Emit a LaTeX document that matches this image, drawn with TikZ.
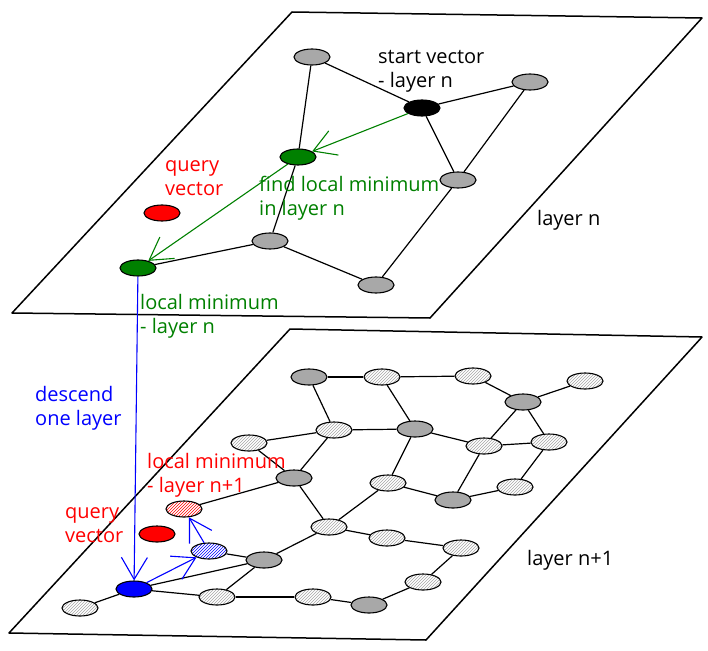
\documentclass[tikz,border=0pt]{standalone}
\usepackage{fontspec}
\newfontfamily\hand{Open Sans}
\usetikzlibrary{shapes.geometric,patterns,arrows.meta}
\definecolor{nodegray}{RGB}{168,168,168}
\definecolor{darkgreen}{RGB}{0,128,0}

\begin{document}
\begin{tikzpicture}[x=1pt,y=-1pt,
        vec/.style={ellipse,draw,line width=1.1pt,minimum width=36pt,minimum height=16pt,inner sep=0pt},
        full/.style={vec,fill=nodegray},
        hatch/.style={vec,pattern=north east lines,pattern color=gray!70},
        edge/.style={line width=1.2pt},
        plane/.style={line width=1.5pt,line join=round},
        txt/.style={font=\hand\fontsize{20}{24}\selectfont,align=left,anchor=base west,inner sep=0pt},
        walk/.style={line width=1.1pt,-{Straight Barb[length=22pt,width=26pt]}}]
        \useasboundingbox (0,0) rectangle (708,650) ;
        %\draw[very thin,gray,step=50] (0,0) grid (708,650) ;
        % the two layers
        \draw[plane] (292,12)--(702,18)--(430,318)--(12,313)--cycle ;
        \draw[plane] (290,329)--(702,337)--(426,640)--(9,633)--cycle ;
        % layer n
        \node[full] (a) at (312,57) {} ;
        \node[full,fill=black] (start) at (422,108) {} ;
        \node[full] (b) at (530,82) {} ;
        \node[full,fill=darkgreen] (g1) at (298,157) {} ;
        \node[full] (c) at (458,180) {} ;
        \node[vec,fill=red] (q1) at (162,213) {} ;
        \node[full] (d) at (270,241) {} ;
        \node[full,fill=darkgreen] (lmin) at (138,268) {} ;
        \node[full] (e) at (376,285) {} ;
        \foreach \u/\v in {a/start,a/g1,start/b,start/c,b/c,c/e,g1/d,d/lmin,d/e}
          \draw[edge] (\u) -- (\v) ;
        \draw[walk,darkgreen] (start) -- (g1) ;
        \draw[walk,darkgreen] (g1) -- (lmin) ;
        % layer n+1
        \node[full] (n1) at (309,377) {} ;
        \node[hatch] (n2) at (382,377) {} ;
        \node[hatch] (n3) at (473,376) {} ;
        \node[hatch] (n4) at (585,381) {} ;
        \node[full] (n5) at (523,402) {} ;
        \node[hatch] (n6) at (334,430) {} ;
        \node[full] (n7) at (415,429) {} ;
        \node[hatch] (n8) at (249,443) {} ;
        \node[hatch] (n9) at (484,446) {} ;
        \node[hatch] (n10) at (549,442) {} ;
        \node[full] (n11) at (294,478) {} ;
        \node[hatch] (n12) at (388,483) {} ;
        \node[hatch] (n13) at (515,487) {} ;
        \node[full] (n14) at (453,500) {} ;
        \node[hatch,pattern color=red] (lmin2) at (184,509) {} ;
        \node[vec,fill=red] (q2) at (157,534) {} ;
        \node[hatch] (n17) at (329,527) {} ;
        \node[hatch] (n18) at (387,538) {} ;
        \node[hatch] (n19) at (461,548) {} ;
        \node[hatch,pattern color=blue] (n20) at (209,551) {} ;
        \node[full] (n21) at (264,560) {} ;
        \node[hatch] (n22) at (423,582) {} ;
        \node[full,fill=blue] (bstart) at (134,589) {} ;
        \node[hatch] (n24) at (80,608) {} ;
        \node[hatch] (n25) at (217,597) {} ;
        \node[hatch] (n26) at (313,597) {} ;
        \node[full] (n27) at (369,605) {} ;
        \foreach \u/\v in {n1/n2,n2/n3,n3/n5,n5/n4,n1/n6,n2/n7,n6/n7,n8/n6,n7/n9,n9/n10,
            n5/n9,n5/n10,n6/n11,n8/n11,n11/n17,n7/n12,n12/n14,n14/n13,n9/n14,n10/n13,
            n11/lmin2,n12/n17,n17/n21,n21/n25,n17/n18,n18/n19,n19/n22,n22/n27,n27/n26,
            n26/n25,n25/bstart,bstart/n21,n20/n21,bstart/n24}
          \draw[edge] (\u) -- (\v) ;
        \draw[walk,blue] (lmin) -- (bstart) ;
        \draw[walk,blue] (bstart) -- (n20) ;
        \draw[walk,blue] (n20) -- (lmin2) ;
        % labels (base = last line)
        \node[txt] (startlbl) at (378,88) {start vector\\- layer n} ;
        \node[txt,red] (q1lbl) at (165,195) {query\\vector} ;
        \node[txt,darkgreen] (findlbl) at (259,215) {find local minimum\\in layer n} ;
        \node[txt] (lyrn) at (537,225) {layer n} ;
        \node[txt,darkgreen] (lminlbl) at (140,333) {local minimum\\- layer n} ;
        \node[txt,blue] (desclbl) at (35,425) {descend\\one layer} ;
        \node[txt,red] (lmin2lbl) at (147,492) {local minimum\\- layer n+1} ;
        \node[txt,red] (q2lbl) at (65,542) {query\\vector} ;
        \node[txt] (lyrn1) at (527,565) {layer n+1} ;
      \end{tikzpicture}
\end{document}
